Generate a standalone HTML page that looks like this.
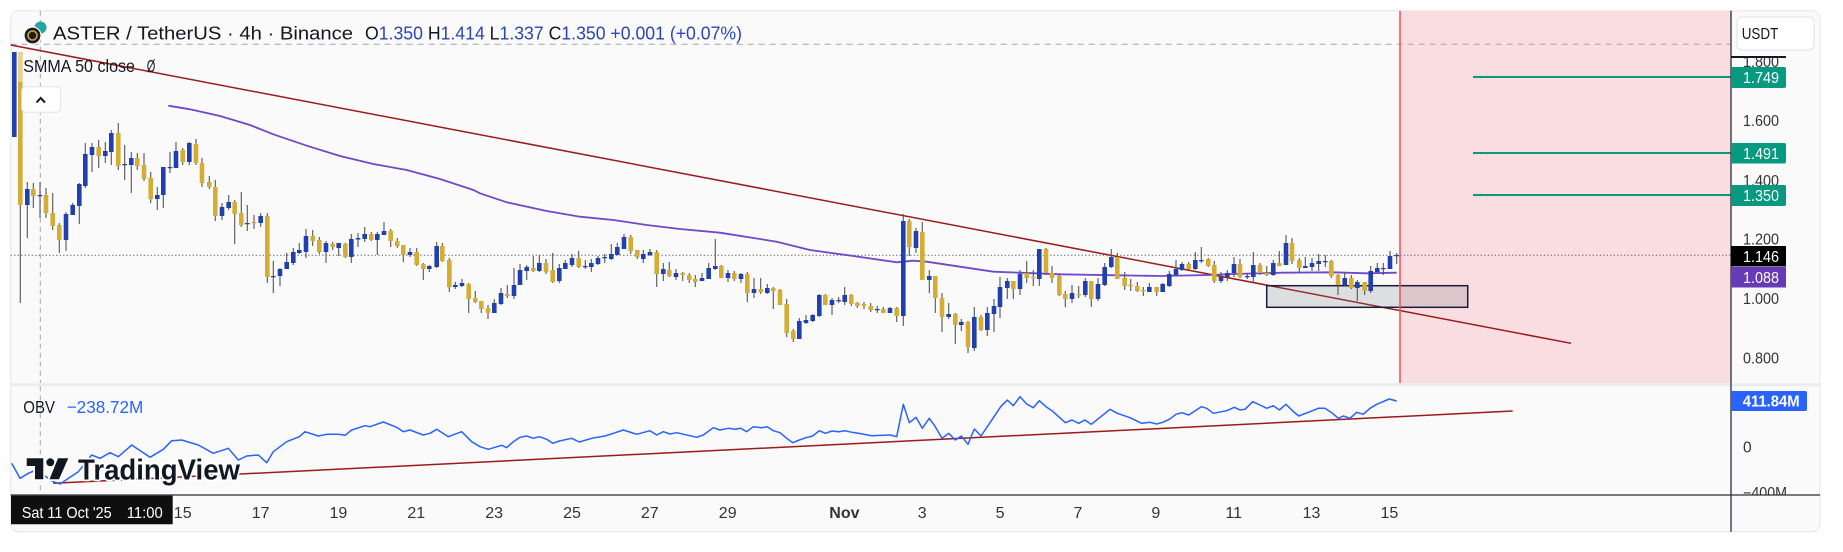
<!DOCTYPE html>
<html><head><meta charset="utf-8"><style>
html,body{margin:0;padding:0;background:#fff;width:1843px;height:552px;overflow:hidden}
svg{display:block;font-family:"Liberation Sans",Arial,sans-serif}
</style></head><body>
<svg width="1843" height="552" viewBox="0 0 1843 552" xmlns="http://www.w3.org/2000/svg">
<defs>
<clipPath id="mainc"><rect x="10.7" y="10.7" width="1720.3" height="372.6"/></clipPath>
<clipPath id="obvc"><rect x="10.7" y="386.3" width="1720.3" height="108.7"/></clipPath>
<clipPath id="obvax"><rect x="1731" y="386.3" width="89" height="108.5"/></clipPath>
</defs>
<rect x="0" y="0" width="1843" height="552" fill="#ffffff"/>
<rect x="10.7" y="10.7" width="1809.3" height="521" rx="8" fill="#fafafa" stroke="#e6e6e6" stroke-width="1"/>

<!-- main pane -->
<g clip-path="url(#mainc)">
<rect x="1400" y="10.7" width="331" height="372.6" fill="#f9dde0"/>
<line x1="10.7" y1="44.3" x2="1731" y2="44.3" stroke="#a3a6ae" stroke-width="1" stroke-dasharray="6 5"/>
<line x1="40.3" y1="10.7" x2="40.3" y2="383.3" stroke="#a3a6ae" stroke-width="1" stroke-dasharray="5 4"/>
<line x1="10.7" y1="255.3" x2="1731" y2="255.3" stroke="#555" stroke-width="1" stroke-dasharray="1.2 2.3"/>
<line x1="10.7" y1="45" x2="1571" y2="343.3" stroke="#9b1b1b" stroke-width="1.5"/>
<rect x="1266.7" y="285.7" width="201" height="21.6" fill="rgba(120,123,134,0.22)" stroke="#1c1a3a" stroke-width="1.5"/>
<polyline fill="none" stroke="#7048c8" stroke-width="1.8" points="168.3,105.7 190,109.3 220,116 250,125 273.3,134.3 306.7,145.7 340,156 373.3,164 406.7,170 440,179 473.3,190 480,193.3 506.7,202.3 546.7,211 580,216.7 613.3,220 646.7,225 680,229 720,232.7 776.7,241.7 810,250 853.3,256 896.7,262.3 913.3,260.7 926.7,261.7 960,266.7 993.3,271.7 1060,274.3 1160,276 1210,275 1233,274 1283,272.7 1333,272.3 1366.7,273.3 1396.7,272.7"/>
<line x1="1473" y1="77" x2="1731" y2="77" stroke="#089981" stroke-width="2"/>
<line x1="1473" y1="153" x2="1731" y2="153" stroke="#089981" stroke-width="2"/>
<line x1="1473" y1="195" x2="1731" y2="195" stroke="#089981" stroke-width="2"/>
<!-- wicks -->
<path fill="none" stroke="#555" stroke-width="1.1" d="M14.3 52V137M20.3 52V303M27.3 182V238M33.3 183V208M40 182V218M46 188V218M52.7 193V230M59.3 223V253M66 212V251M72.7 203V215M79.3 183V224M85.3 143V188M92 143V172M98.7 140V168M105.3 142V163M111.3 130V165M118.3 123V170M124.7 145V180M131.3 152V193M137.3 153V170M144 153V181M150.7 172V203M157.3 187V210M163.3 167V208M170 152V173M176 142V168M182.7 148V165M189.3 142V165M196 139V165M202 158V187M209.3 176V189M215.3 180V221M222 203V220M228.7 195V210M234.7 200V244M241.3 192V227M247.3 205V231M254 215V229M260.7 213V227M267.3 213V283M273.3 261V293M280 268V286M286.7 253V269M293.3 248V265M299.3 243V254M306 229V258M312.7 230V246M319.3 237V254M326 241V263M332.7 242V250M338.7 243V256M345.3 243V258M351.3 234V263M358 233V247M364.7 227V242M371.3 232V241M377.3 232V255M384 222V235M390.7 229V247M397.3 238V248M403.3 245V262M410 248V257M416.7 248V266M423.3 263V280M429.3 265V272M436.7 242V268M442.3 243V262M449.3 258V292M455.3 282V289M462 279V287M468.7 283V313M475.3 291V303M481.3 301V313M488 305V319M494.3 299V313M501 288V305M507.3 285V298M514 268V299M520 264V285M526.7 265V280M533.3 256V272M539.3 255V272M546 259V274M552.7 253V283M559.3 264V283M565.3 260V269M572 254V267M578.7 251V268M585.3 260V269M591.3 259V272M598 256V265M604.7 254V263M611.3 244V260M617.3 243V255M624 234V249M630.7 235V254M637.3 250V259M643.3 250V263M650 249V256M656.7 250V287M663.3 263V281M669.3 262V277M676 269V280M682.7 272V281M689.3 273V283M695.3 275V287M702 273V281M708.7 263V279M715.3 239V270M721.3 265V278M728 270V282M734.3 271V281M741 273V283M747.3 272V302M754 278V298M760.7 278V294M767.3 284V294M773.3 287V309M780 289V305M786.7 299V337M793.3 329V342M799.3 318V339M806 315V324M812.7 314V322M819.3 294V317M825.3 294V305M832 298V315M838.7 297V303M844.7 287V305M851.3 294V306M857.3 302V308M864 302V309M870.7 303V312M877.3 306V313M883.3 307V313M890 307V313M896.7 307V322M903.3 214V326M909.3 219V256M916 228V253M922.3 222V280M929.3 270V293M935.3 276V313M942 293V332M948.7 303V319M955.3 313V344M961.3 319V331M968 321V353M974.3 307V351M981 315V331M987.3 307V336M994 299V332M1000 277V318M1007.3 278V299M1013.3 281V299M1020 270V295M1026.7 261V283M1033.3 270V286M1039.3 249V286M1046 248V275M1052 266V283M1059.3 274V296M1065.3 291V307M1072 285V303M1078.7 286V298M1085.3 278V297M1091.3 281V307M1098 278V301M1104.7 263V286M1111.3 249V268M1117.3 253V279M1124.7 272V290M1130.7 279V291M1137.3 282V292M1143.3 287V296M1149.3 283V292M1156.7 287V296M1162.7 283V292M1169.3 271V287M1176 260V276M1182 262V271M1188.7 262V270M1195.3 252V270M1201.3 247V263M1208.3 258V267M1214.3 261V283M1221 272V283M1227.3 270V281M1234 257V277M1240 259V278M1247.3 273V279M1253.3 252V282M1260 263V275M1266.7 266V276M1273.3 260V276M1279.3 251V266M1286 235V265M1292 238V264M1299.3 258V273M1305.3 257V268M1312 258V271M1318.7 254V271M1325.3 255V267M1331.3 260V278M1338 274V295M1344.7 272V286M1351.3 275V289M1357.3 280V301M1364.7 282V295M1370.7 266V293M1377.3 263V273M1383.3 263V275M1390 251V269M1396.7 253V264"/>
<!-- blue bodies -->
<path fill="#2140b0" d="M12 52h4.6V137h-4.6zM25 189h4.6V205h-4.6zM37.7 195h4.6V196.2h-4.6zM63.7 214h4.6V240h-4.6zM70.4 205h4.6V215h-4.6zM77 184h4.6V206h-4.6zM83 154h4.6V186h-4.6zM89.7 147h4.6V155h-4.6zM103 151h4.6V156h-4.6zM109 133h4.6V152h-4.6zM122.4 164h4.6V165.2h-4.6zM129 158h4.6V165h-4.6zM155 195h4.6V199h-4.6zM161 167h4.6V195h-4.6zM167.7 167h4.6V168.2h-4.6zM173.7 151h4.6V168h-4.6zM187 143h4.6V162h-4.6zM219.7 207h4.6V216h-4.6zM226.4 202h4.6V208h-4.6zM245 223h4.6V224.2h-4.6zM258.4 216h4.6V223h-4.6zM271 276h4.6V277.2h-4.6zM277.7 269h4.6V276h-4.6zM284.4 262h4.6V269h-4.6zM291 252h4.6V263h-4.6zM297 250h4.6V253h-4.6zM303.7 236h4.6V252h-4.6zM323.7 243h4.6V252h-4.6zM336.4 243h4.6V248h-4.6zM349 239h4.6V257h-4.6zM355.7 238h4.6V239.5h-4.6zM362.4 234h4.6V239h-4.6zM375 234h4.6V240h-4.6zM381.7 231h4.6V235h-4.6zM407.7 252h4.6V255h-4.6zM427 266h4.6V269h-4.6zM434.4 246h4.6V267h-4.6zM453 285h4.6V287h-4.6zM459.7 283h4.6V286h-4.6zM492 303h4.6V313h-4.6zM498.7 293h4.6V304h-4.6zM511.7 285h4.6V296h-4.6zM517.7 270h4.6V285h-4.6zM524.4 267h4.6V271h-4.6zM537 263h4.6V271h-4.6zM557 268h4.6V281h-4.6zM563 263h4.6V269h-4.6zM569.7 258h4.6V265h-4.6zM583 266h4.6V267.2h-4.6zM589 263h4.6V267h-4.6zM595.7 258h4.6V264h-4.6zM602.4 257h4.6V258.2h-4.6zM609 254h4.6V259h-4.6zM615 247h4.6V255h-4.6zM621.7 237h4.6V249h-4.6zM641 254h4.6V259h-4.6zM647.7 252h4.6V255h-4.6zM661 269h4.6V274h-4.6zM673.7 273h4.6V277h-4.6zM699.7 278h4.6V281h-4.6zM706.4 268h4.6V279h-4.6zM713 266h4.6V269h-4.6zM725.7 273h4.6V278h-4.6zM738.7 274h4.6V279h-4.6zM751.7 289h4.6V293h-4.6zM765 288h4.6V293h-4.6zM797 321h4.6V339h-4.6zM803.7 320h4.6V323h-4.6zM810.4 315h4.6V321h-4.6zM817 295h4.6V316h-4.6zM829.7 300h4.6V305h-4.6zM836.4 300h4.6V301.2h-4.6zM842.4 295h4.6V302h-4.6zM875 309h4.6V310.2h-4.6zM887.7 308h4.6V313h-4.6zM901 221h4.6V316h-4.6zM913.7 231h4.6V248h-4.6zM927 276h4.6V280h-4.6zM946.4 314h4.6V317h-4.6zM959 322h4.6V325h-4.6zM972 317h4.6V348h-4.6zM985 313h4.6V330h-4.6zM991.7 306h4.6V314h-4.6zM997.7 287h4.6V307h-4.6zM1005 281h4.6V288h-4.6zM1017.7 274h4.6V289h-4.6zM1037 249h4.6V279h-4.6zM1069.7 293h4.6V299h-4.6zM1083 281h4.6V295h-4.6zM1095.7 284h4.6V299h-4.6zM1102.4 267h4.6V285h-4.6zM1109 257h4.6V267h-4.6zM1147 287h4.6V292h-4.6zM1160.4 284h4.6V292h-4.6zM1167 274h4.6V286h-4.6zM1173.7 269h4.6V275h-4.6zM1179.7 264h4.6V270h-4.6zM1193 260h4.6V269h-4.6zM1199 260h4.6V261.2h-4.6zM1218.7 277h4.6V281h-4.6zM1225 273h4.6V277h-4.6zM1231.7 264h4.6V273h-4.6zM1245 276h4.6V277.2h-4.6zM1251 265h4.6V277h-4.6zM1271 263h4.6V275h-4.6zM1283.7 243h4.6V265h-4.6zM1303 266h4.6V268h-4.6zM1309.7 263h4.6V267h-4.6zM1316.4 261h4.6V264h-4.6zM1323 261h4.6V262.2h-4.6zM1342.4 278h4.6V285h-4.6zM1355 282h4.6V288h-4.6zM1368.4 271h4.6V291h-4.6zM1375 268h4.6V272h-4.6zM1381 268h4.6V269.2h-4.6zM1387.7 256h4.6V269h-4.6zM1394.4 255h4.6V256.2h-4.6z"/>
<!-- gold bodies -->
<path fill="#d6ad34" d="M18 52h4.6V205h-4.6zM31 189h4.6V196h-4.6zM43.7 195h4.6V213h-4.6zM50.4 213h4.6V226h-4.6zM57 225h4.6V240h-4.6zM96.4 147h4.6V156h-4.6zM116 133h4.6V166h-4.6zM135 158h4.6V166h-4.6zM141.7 165h4.6V179h-4.6zM148.4 178h4.6V199h-4.6zM180.4 150h4.6V162h-4.6zM193.7 144h4.6V163h-4.6zM199.7 163h4.6V183h-4.6zM207 182h4.6V187h-4.6zM213 187h4.6V216h-4.6zM232.4 202h4.6V214h-4.6zM239 213h4.6V225h-4.6zM251.7 222h4.6V223.2h-4.6zM265 216h4.6V277h-4.6zM310.4 236h4.6V241h-4.6zM317 240h4.6V252h-4.6zM330.4 244h4.6V247h-4.6zM343 244h4.6V257h-4.6zM369 234h4.6V240h-4.6zM388.4 231h4.6V241h-4.6zM395 241h4.6V246h-4.6zM401 245h4.6V255h-4.6zM414.4 252h4.6V265h-4.6zM421 264h4.6V269h-4.6zM440 246h4.6V261h-4.6zM447 260h4.6V287h-4.6zM466.4 284h4.6V299h-4.6zM473 298h4.6V302h-4.6zM479 301h4.6V309h-4.6zM485.7 308h4.6V313h-4.6zM505 294h4.6V296h-4.6zM531 268h4.6V271h-4.6zM543.7 263h4.6V272h-4.6zM550.4 270h4.6V282h-4.6zM576.4 258h4.6V267h-4.6zM628.4 237h4.6V251h-4.6zM635 250h4.6V257h-4.6zM654.4 252h4.6V274h-4.6zM667 270h4.6V276h-4.6zM680.4 273h4.6V275h-4.6zM687 275h4.6V280h-4.6zM693 279h4.6V282h-4.6zM719 266h4.6V278h-4.6zM732 273h4.6V279h-4.6zM745 274h4.6V293h-4.6zM758.4 289h4.6V292h-4.6zM771 288h4.6V291h-4.6zM777.7 290h4.6V305h-4.6zM784.4 304h4.6V333h-4.6zM791 331h4.6V339h-4.6zM823 295h4.6V305h-4.6zM849 295h4.6V304h-4.6zM855 303h4.6V306h-4.6zM861.7 304h4.6V306h-4.6zM868.4 306h4.6V310h-4.6zM881 309h4.6V313h-4.6zM894.4 308h4.6V316h-4.6zM907 221h4.6V247h-4.6zM920 232h4.6V280h-4.6zM933 276h4.6V298h-4.6zM939.7 298h4.6V317h-4.6zM953 314h4.6V325h-4.6zM965.7 322h4.6V347h-4.6zM978.7 317h4.6V330h-4.6zM1011 281h4.6V289h-4.6zM1024.4 273h4.6V278h-4.6zM1031 277h4.6V278.2h-4.6zM1043.7 249h4.6V273h-4.6zM1049.7 273h4.6V278h-4.6zM1057 276h4.6V295h-4.6zM1063 294h4.6V299h-4.6zM1076.4 294h4.6V295.2h-4.6zM1089 281h4.6V299h-4.6zM1115 257h4.6V279h-4.6zM1122.4 278h4.6V286h-4.6zM1128.4 285h4.6V286.2h-4.6zM1135 286h4.6V291h-4.6zM1141 290h4.6V291.2h-4.6zM1154.4 287h4.6V292h-4.6zM1186.4 264h4.6V269h-4.6zM1206 259h4.6V266h-4.6zM1212 265h4.6V281h-4.6zM1237.7 264h4.6V277h-4.6zM1257.7 265h4.6V273h-4.6zM1264.4 273h4.6V275h-4.6zM1277 263h4.6V266h-4.6zM1289.7 243h4.6V261h-4.6zM1297 260h4.6V268h-4.6zM1329 261h4.6V276h-4.6zM1335.7 275h4.6V285h-4.6zM1349 278h4.6V288h-4.6zM1362.4 282h4.6V291h-4.6z"/>
<rect x="18" y="52" width="4.6" height="30" fill="#e9d08e"/>
<line x1="1400" y1="10.7" x2="1400" y2="383.3" stroke="#f7525f" stroke-width="1.6"/>
</g>

<!-- legend main -->
<circle cx="40.5" cy="27.5" r="6" fill="#26a69a"/>
<circle cx="32.5" cy="35.5" r="8.5" fill="#1e1e1e" stroke="#fff" stroke-width="1.2"/>
<circle cx="32.5" cy="35.5" r="4.5" fill="none" stroke="#c9a24a" stroke-width="1.6"/>
<text x="53" y="39.5" font-size="18.5" textLength="300" lengthAdjust="spacingAndGlyphs" fill="#131722">ASTER / TetherUS · 4h · Binance</text>
<text x="365" y="39.5" font-size="18.5" textLength="377" lengthAdjust="spacingAndGlyphs"><tspan fill="#131722">O</tspan><tspan fill="#2b46b4">1.350</tspan><tspan fill="#131722"> H</tspan><tspan fill="#2b46b4">1.414</tspan><tspan fill="#131722"> L</tspan><tspan fill="#2b46b4">1.337</tspan><tspan fill="#131722"> C</tspan><tspan fill="#2b46b4">1.350 +0.001 (+0.07%)</tspan></text>
<text x="23.3" y="72" font-size="17.5" textLength="111.7" lengthAdjust="spacingAndGlyphs" fill="#131722">SMMA 50 close</text>
<text x="146.7" y="72" font-size="17.5" textLength="8.6" lengthAdjust="spacingAndGlyphs" fill="#131722">Ø</text>
<rect x="21.7" y="86.7" width="39" height="25.6" rx="4" fill="#ffffff" stroke="#e0e3eb" stroke-width="1"/>
<polyline points="36.5,102.5 40.7,98 45,102.5" fill="none" stroke="#131722" stroke-width="2"/>

<!-- pane separator -->
<rect x="10.7" y="383.3" width="1809.3" height="3" fill="#ebebeb"/>

<!-- OBV pane -->
<g clip-path="url(#obvc)">
<line x1="40.3" y1="386.3" x2="40.3" y2="495" stroke="#a3a6ae" stroke-width="1" stroke-dasharray="5 4"/>
<line x1="53.3" y1="483.3" x2="1512.7" y2="411" stroke="#9b1b1b" stroke-width="1.5"/>
<polyline fill="none" stroke="#2962ff" stroke-width="1.5" stroke-linejoin="round" points="11.7,463.3 20,478.3 28.3,473.3 36,470 45,476 53.3,481.7 60,484 78.3,471.7 91.7,455 100,458.3 110,452.7 118.3,456.7 131.7,445 150,457.3 163.3,449.3 171.7,440.7 181.7,440 198.3,445 213.3,453.3 228.3,448.3 238.3,460 246.7,456 258.3,455 266.7,462.7 273.3,451.7 286.7,441.7 299.3,436.7 305,431.7 318.3,436 326.7,434.3 338.3,434.3 345,435.3 351.7,430 365,425.7 370,426.7 383.3,422 396.7,427.3 403.3,431.7 410,430 423.3,435 430,433.3 436.7,429.3 448.3,436.7 461.7,431.7 471.7,441.7 480,446.7 488.3,449.3 495,447.3 501.7,445.3 506.7,447.7 513.3,441.7 520,437.3 526.7,436 533.3,438.3 539.3,436.7 546.7,439.3 552.7,443.3 559.3,441 571.7,438.3 579.3,442 591.7,438.3 605,436 613.3,433.3 623.3,430 636.7,434.3 650,430.7 656.7,435 663.3,431.7 670,434 676.7,432.7 696.7,437.3 703.3,435 713.3,427.7 720,430 728.3,428.3 735,429.3 740.7,428.3 746.7,431.7 753.3,426.7 761.7,427.7 767.3,426.7 773.3,430.7 780,432.7 786.7,438.3 792.7,442.7 799.3,440 806,437.7 812.7,436 819.3,430.7 825.3,433.3 832,431 838.7,431.7 845,430.7 851.7,432.3 858.3,433.3 871.7,435.7 883.3,435.3 890,435 896.7,436.7 903.3,404.3 909.3,422.7 916,417.3 922.3,428.3 929.3,418.3 935.3,426.7 942,438.3 948.7,433.3 955.3,440 961.3,436 968,444.3 974.3,429 981,436 987.3,426.7 994,416.7 1000.7,406.7 1007.3,400 1013.3,405.7 1020,396.7 1026.7,404 1033.3,407.7 1039.3,400.7 1046,406.7 1052,410.7 1065.3,422.7 1072,420 1078.7,423.3 1084.7,420 1091.3,424.3 1110,409.3 1117.3,413.3 1130,417.7 1141.7,423.3 1150,422.3 1156.7,424 1162.7,422.3 1169.3,419.3 1176,414.3 1182,412.7 1188.7,415 1201.3,406.7 1206.7,408.3 1213.3,413.3 1226.7,410.7 1234.3,407.3 1240,410 1245,409.3 1252.7,401.7 1260,405 1266.7,408.3 1273.3,405.7 1279.3,410 1286,404.3 1292.7,411 1298.7,416 1310,411.7 1318.3,408.3 1325,408.3 1331.7,412.7 1338.3,418.3 1343.3,416 1350,418.3 1356.7,412.3 1363.3,414.3 1370,408.3 1376.7,404.3 1389.3,399 1396.7,401"/>
</g>
<text x="23.3" y="413" font-size="17.5" textLength="31.7" lengthAdjust="spacingAndGlyphs" fill="#131722">OBV</text>
<text x="66.7" y="413" font-size="17.5" textLength="76.6" lengthAdjust="spacingAndGlyphs" fill="#2962ff">−238.72M</text>

<!-- TradingView logo -->
<g stroke="#ffffff" stroke-width="3.5" paint-order="stroke" fill="#131722" stroke-linejoin="round">
<polygon points="26.7,458.3 43.3,458.3 43.3,479.3 35,479.3 35,466 26.7,466"/>
<circle cx="50.3" cy="462.3" r="4"/>
<polygon points="58,458.3 68.3,458.3 59,479.3 49.5,479.3"/>
<text x="78" y="479.3" font-size="29" font-weight="bold" textLength="162" lengthAdjust="spacingAndGlyphs">TradingView</text>
</g>

<!-- axes lines -->
<line x1="10.7" y1="495" x2="1820" y2="495" stroke="#2a2e39" stroke-width="1.3"/>
<line x1="1731" y1="10.7" x2="1731" y2="531.7" stroke="#2a2e39" stroke-width="1.3"/>

<!-- time axis -->
<path d="M11 495.6H172.7V524.3H11z" fill="#0f0f0f"/>
<text x="21.7" y="518" font-size="16" textLength="90" lengthAdjust="spacingAndGlyphs" fill="#ffffff">Sat 11 Oct '25</text>
<text x="126.7" y="518" font-size="16" textLength="36" lengthAdjust="spacingAndGlyphs" fill="#ffffff">11:00</text>
<g font-size="16" fill="#333" text-anchor="middle">
<text x="182.7" y="518">15</text>
<text x="260.6" y="518">17</text>
<text x="338.4" y="518">19</text>
<text x="416.3" y="518">21</text>
<text x="494.1" y="518">23</text>
<text x="572" y="518">25</text>
<text x="649.8" y="518">27</text>
<text x="727.7" y="518">29</text>
<text x="844.4" y="518" font-weight="bold">Nov</text>
<text x="922.2" y="518">3</text>
<text x="1000.1" y="518">5</text>
<text x="1078" y="518">7</text>
<text x="1155.8" y="518">9</text>
<text x="1233.7" y="518">11</text>
<text x="1311.5" y="518">13</text>
<text x="1389.4" y="518">15</text>
</g>

<!-- price axis -->
<rect x="1737" y="17" width="77" height="33" rx="5" fill="#ffffff" stroke="#e0e3eb" stroke-width="1"/>
<text x="1741.7" y="39" font-size="15.5" textLength="36.6" lengthAdjust="spacingAndGlyphs" fill="#131722">USDT</text>
<g font-size="15.5" fill="#333">
<text x="1743" y="67" textLength="36" lengthAdjust="spacingAndGlyphs">1.800</text>
<text x="1743" y="126" textLength="36" lengthAdjust="spacingAndGlyphs">1.600</text>
<text x="1743" y="186" textLength="36" lengthAdjust="spacingAndGlyphs">1.400</text>
<text x="1743" y="244.5" textLength="36" lengthAdjust="spacingAndGlyphs">1.200</text>
<text x="1743" y="304" textLength="36" lengthAdjust="spacingAndGlyphs">1.000</text>
<text x="1743" y="363.5" textLength="36" lengthAdjust="spacingAndGlyphs">0.800</text>
</g>
<rect x="1731" y="56" width="55" height="2" fill="#131722"/>
<path d="M1731 67h53a2 2 0 0 1 2 2v17a2 2 0 0 1-2 2h-53z" fill="#089981"/>
<path d="M1731 143h53a2 2 0 0 1 2 2v16.5a2 2 0 0 1-2 2h-53z" fill="#089981"/>
<path d="M1731 185h53a2 2 0 0 1 2 2v17a2 2 0 0 1-2 2h-53z" fill="#089981"/>
<rect x="1731" y="246" width="55" height="20.5" fill="#000000"/>
<rect x="1731" y="267" width="55" height="20.5" fill="#673ab7"/>
<g font-size="15.5" fill="#ffffff">
<text x="1743" y="83" textLength="36" lengthAdjust="spacingAndGlyphs">1.749</text>
<text x="1743" y="158.8" textLength="36" lengthAdjust="spacingAndGlyphs">1.491</text>
<text x="1743" y="201" textLength="36" lengthAdjust="spacingAndGlyphs">1.350</text>
<text x="1743" y="261.8" textLength="36" lengthAdjust="spacingAndGlyphs">1.146</text>
<text x="1743" y="282.8" textLength="36" lengthAdjust="spacingAndGlyphs">1.088</text>
</g>

<!-- OBV axis -->
<path d="M1731 391h74a2 2 0 0 1 2 2v16a2 2 0 0 1-2 2h-74z" fill="#2962ff"/>
<text x="1742.7" y="406.7" font-size="15.5" font-weight="bold" textLength="57" lengthAdjust="spacingAndGlyphs" fill="#ffffff">411.84M</text>
<g clip-path="url(#obvax)" font-size="15.5" fill="#333">
<text x="1743" y="452.5">0</text>
<text x="1743" y="497.8" textLength="44" lengthAdjust="spacingAndGlyphs">−400M</text>
</g>
</svg>
</body></html>
